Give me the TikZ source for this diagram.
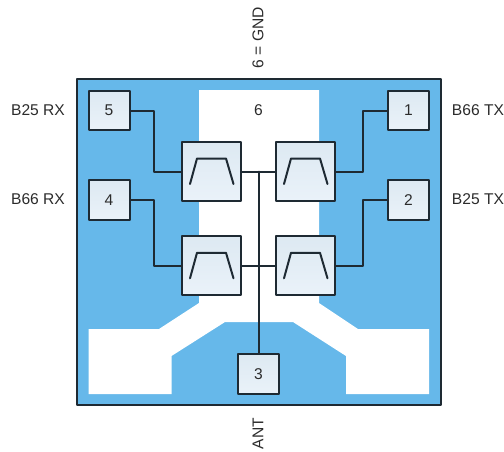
\documentclass[tikz,border=0pt]{standalone}
\usepackage{fontspec}
\setmainfont{Liberation Sans}
\definecolor{padblue}{HTML}{66B8EA}
\definecolor{boxtop}{HTML}{DDE9F2}
\definecolor{boxbot}{HTML}{EAF2F9}
\definecolor{inkline}{HTML}{1E2A33}
\definecolor{inktext}{HTML}{2B2B2B}
\tikzset{
  wire/.style={line width=1.5pt,inkline},
  padbox/.style={draw=inkline,line width=1.5pt,top color=boxtop,bottom color=boxbot,
    minimum width=30.75pt,minimum height=29.6pt,inner sep=0pt,text=inktext,font=\fontsize{11.7}{13}\selectfont},
  filterbox/.style={draw=inkline,line width=1.5pt,top color=boxtop,bottom color=boxbot,
    minimum width=44pt,minimum height=44pt,inner sep=0pt},
  bandname/.style={text=inktext,inner sep=0pt,font=\fontsize{11.7}{13}\selectfont},
}
\begin{document}
\begin{tikzpicture}[x=0.75pt,y=-0.75pt,line cap=round,line join=round]
  \useasboundingbox (0,0) rectangle (504,451);
  % Package body and white ground plane
  \draw[line width=1.5pt,inkline,fill=padblue] (76.5,79) rectangle (441,405);
  \fill[white] (199,90)--(319,90)--(319,303)--(358,329)--(429,329)--(429,394)
               --(346,394)--(346,356)--(293,322)--(225,322)--(171.5,356)
               --(171.5,394)--(88.5,394)--(88.5,329)--(159,329)--(199,303)--cycle;

  % Filters
  \node[filterbox] (fa) at (211.75,171.5) {};
  \node[filterbox] (fb) at (305.75,171.5) {};
  \node[filterbox] (fc) at (211.75,265.8) {};
  \node[filterbox] (fd) at (305.75,265.8) {};
  \foreach \f in {fa,fb,fc,fd}
    \draw[wire] (\f.center) ++(-21.75,12.5) -- ++(7,-25.5) -- ++(29,0) -- ++(7.5,25.5);

  % Pads
  \node[padbox] (p5) at (109,110.5) {5};
  \node[padbox] (p4) at (109,200) {4};
  \node[padbox] (p1) at (408.5,110.5) {1};
  \node[padbox] (p2) at (408.5,200) {2};
  \node[padbox] (p3) at (258.5,374) {3};
  \node[bandname] (p6) at (258.5,110.5) {6};

  % Wiring
  \coordinate (ja) at (259,171.5);
  \coordinate (el5) at (153.5,171.5);
  \coordinate (el4) at (153.5,265.8);
  \coordinate (el1) at (362.5,171.5);
  \coordinate (el2) at (362.5,265.8);
  \draw[wire] (fa.east) -- (fb.west);
  \draw[wire] (fc.east) -- (fd.west);
  \draw[wire] (ja) -- (p3.north -| ja);
  \draw[wire] (p5.east) -| (el5) -- (fa.west);
  \draw[wire] (p4.east) -| (el4) -- (fc.west);
  \draw[wire] (p1.west) -| (el1) -- (fb.east);
  \draw[wire] (p2.west) -| (el2) -- (fd.east);

  % Labels
  \node[bandname] (l5) at (38,110.5) {B25 RX};
  \node[bandname] (l4) at (38,199.5) {B66 RX};
  \node[bandname] (l1) at (478,110.5) {B66 TX};
  \node[bandname] (l2) at (478,199.5) {B25 TX};
  \node[bandname,rotate=90] (lg) at (258,37.5) {6 = GND};
  \node[bandname,rotate=90] (la) at (258,433.5) {ANT};
\end{tikzpicture}
\end{document}
